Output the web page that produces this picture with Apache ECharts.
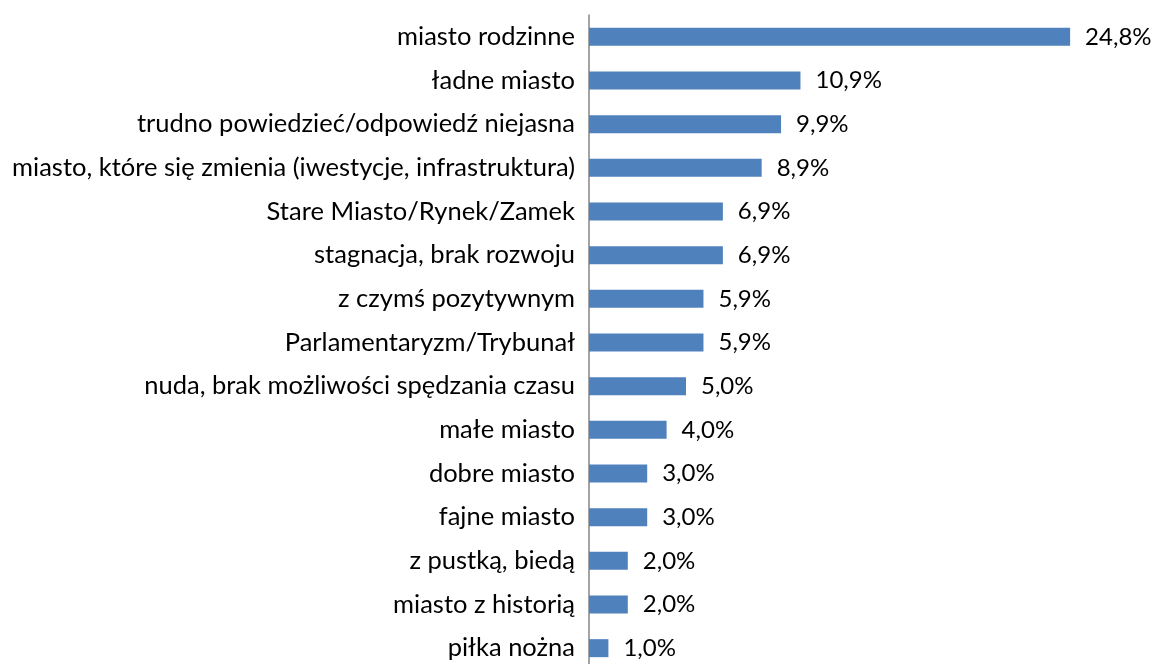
<!DOCTYPE html>
<html>
<head>
<meta charset="utf-8">
<script src="https://cdn.jsdelivr.net/npm/echarts@6/dist/echarts.min.js"></script>
<style>
  html, body { margin: 0; padding: 0; background: #fff; }
  #chart { width: 1155px; height: 664px; }
</style>
</head>
<body>
<div id="chart"></div>
<script>
const categories = [
  "miasto rodzinne",
  "ładne miasto",
  "trudno powiedzieć/odpowiedź niejasna",
  "miasto, które się zmienia (iwestycje, infrastruktura)",
  "Stare Miasto/Rynek/Zamek",
  "stagnacja, brak rozwoju",
  "z czymś pozytywnym",
  "Parlamentaryzm/Trybunał",
  "nuda, brak możliwości spędzania czasu",
  "małe miasto",
  "dobre miasto",
  "fajne miasto",
  "z pustką, biedą",
  "miasto z historią",
  "piłka nożna"
];
const values = [24.8, 10.9, 9.9, 8.9, 6.9, 6.9, 5.9, 5.9, 5.0, 4.0, 3.0, 3.0, 2.0, 2.0, 1.0];

const chart = echarts.init(document.getElementById("chart"));
const font = "Lato, 'Open Sans', sans-serif";
chart.setOption({
  animation: false,
  grid: { left: 589, right: 81, top: 15, bottom: -6, outerBoundsMode: "none", containLabel: false },
  xAxis: {
    type: "value",
    min: 0,
    max: 25,
    show: false
  },
  yAxis: {
    type: "category",
    data: categories,
    inverse: true,
    axisLine: { lineStyle: { color: "#868686", width: 1.5 } },
    axisTick: { length: 8, lineStyle: { color: "#868686", width: 1.5 } },
    axisLabel: { color: "#000", fontSize: 25.5, fontFamily: font, margin: 14 }
  },
  series: [
    {
      type: "bar",
      data: values,
      barWidth: 18,
      itemStyle: { color: "#4F81BD" },
      label: {
        show: true,
        position: "right",
        distance: 15,
        color: "#000",
        fontSize: 24,
        fontFamily: font,
        formatter: p => p.value.toFixed(1).replace(".", ",") + "%"
      }
    }
  ]
});
</script>
</body>
</html>
